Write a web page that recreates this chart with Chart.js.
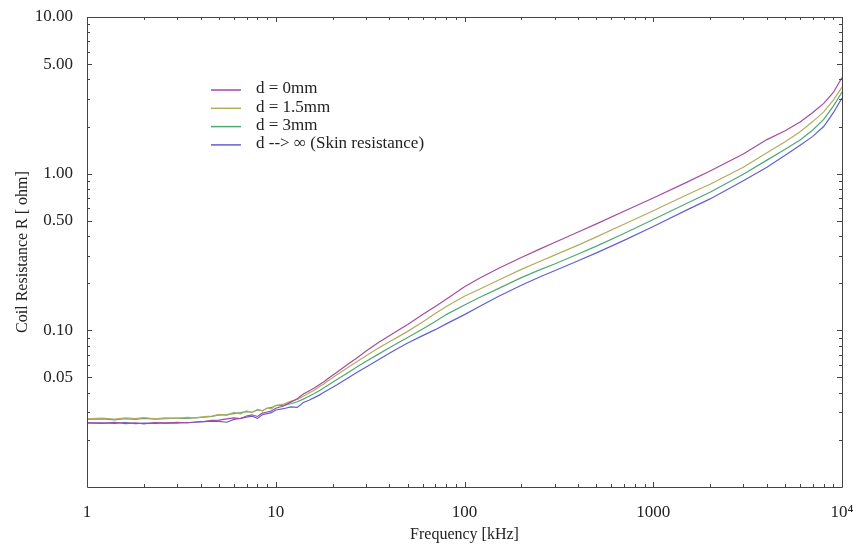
<!DOCTYPE html>
<html>
<head>
<meta charset="utf-8">
<script src="https://cdn.jsdelivr.net/npm/chart.js@4/dist/chart.umd.min.js"></script>
<style>
  html, body { margin: 0; padding: 0; background: #fff; }
  #wrap { position: relative; width: 853px; height: 545px; }
</style>
</head>
<body>
<div id="wrap"><canvas id="chart"></canvas></div>
<script>
// Frequency samples [kHz]
const freqs = [1, 1.2, 1.4, 1.6, 1.8, 2, 2.3, 2.6, 3, 3.4, 3.8, 4.2, 4.6, 5, 5.5, 6, 6.5, 7, 7.5, 8, 8.5, 9, 9.5,
    10, 11, 12, 13, 14, 15, 16, 17, 18, 19, 21, 24, 27, 30, 35, 40, 45, 50, 60, 70, 80,
    100, 120, 150, 200, 250, 300, 400, 500, 700, 1000, 1500, 2000, 3000, 4000, 5000, 6000, 7000, 8000, 9000, 10000];

// Coil resistance [ohm] per series
const d0mm = [0.0258, 0.0255, 0.0259, 0.0254, 0.0257, 0.0253, 0.0258, 0.0256, 0.0259, 0.0257, 0.0261, 0.0262, 0.0266, 0.0267, 0.0272, 0.0276, 0.0273, 0.0284, 0.0289, 0.0282, 0.0296, 0.0301, 0.0306,
    0.0318, 0.0329, 0.0348, 0.0366, 0.0392, 0.0410, 0.0428, 0.0450, 0.0470, 0.0495, 0.0538, 0.0605, 0.0668, 0.0735, 0.0835, 0.0925, 0.1010, 0.1090, 0.1260, 0.1420, 0.1580,
    0.1900, 0.2150, 0.2470, 0.2920, 0.3300, 0.3640, 0.4240, 0.4780, 0.5760, 0.7000, 0.8800, 1.0400, 1.3350, 1.6500, 1.8800, 2.1400, 2.4600, 2.8100, 3.3000, 4.1000];
const d15mm = [0.0272, 0.0275, 0.0271, 0.0276, 0.0273, 0.0277, 0.0272, 0.0276, 0.0274, 0.0278, 0.0276, 0.0281, 0.0284, 0.0291, 0.0287, 0.0299, 0.0293, 0.0306, 0.0299, 0.0313, 0.0306, 0.0319, 0.0315,
    0.0332, 0.0338, 0.0352, 0.0362, 0.0380, 0.0398, 0.0415, 0.0436, 0.0455, 0.0478, 0.0518, 0.0578, 0.0632, 0.0685, 0.0770, 0.0845, 0.0915, 0.0985, 0.1130, 0.1280, 0.1420,
    0.1650, 0.1830, 0.2080, 0.2450, 0.2750, 0.3020, 0.3500, 0.3950, 0.4750, 0.5800, 0.7300, 0.8550, 1.1000, 1.3600, 1.6000, 1.8500, 2.1500, 2.4800, 2.9500, 3.5700];
const d3mm = [0.0270, 0.0272, 0.0268, 0.0273, 0.0270, 0.0274, 0.0271, 0.0273, 0.0275, 0.0274, 0.0277, 0.0279, 0.0282, 0.0288, 0.0290, 0.0294, 0.0298, 0.0303, 0.0300, 0.0310, 0.0307, 0.0318, 0.0322,
    0.0330, 0.0332, 0.0340, 0.0350, 0.0364, 0.0380, 0.0395, 0.0412, 0.0430, 0.0448, 0.0483, 0.0535, 0.0585, 0.0632, 0.0705, 0.0775, 0.0840, 0.0900, 0.1020, 0.1140, 0.1260,
    0.1450, 0.1620, 0.1840, 0.2170, 0.2430, 0.2650, 0.3070, 0.3450, 0.4150, 0.5100, 0.6450, 0.7600, 0.9900, 1.2200, 1.4300, 1.6400, 1.9000, 2.2200, 2.7000, 3.3200];
const dInf = [0.0256, 0.0257, 0.0255, 0.0258, 0.0254, 0.0256, 0.0255, 0.0257, 0.0256, 0.0258, 0.0259, 0.0261, 0.0263, 0.0262, 0.0259, 0.0270, 0.0274, 0.0279, 0.0283, 0.0274, 0.0289, 0.0294, 0.0298,
    0.0310, 0.0316, 0.0325, 0.0322, 0.0346, 0.0358, 0.0372, 0.0386, 0.0402, 0.0418, 0.0448, 0.0495, 0.0540, 0.0582, 0.0650, 0.0715, 0.0775, 0.0830, 0.0925, 0.1010, 0.1100,
    0.1260, 0.1420, 0.1640, 0.1940, 0.2190, 0.2400, 0.2780, 0.3120, 0.3750, 0.4600, 0.5850, 0.6900, 0.9000, 1.1000, 1.3100, 1.5200, 1.7300, 2.0000, 2.4500, 3.0400];

const seriesLabels = ['d = 0mm', 'd = 1.5mm', 'd = 3mm', 'd --> \u221E (Skin resistance)'];
const seriesColors = ['rgb(165,75,160)', 'rgb(178,172,95)', 'rgb(80,168,118)', 'rgb(96,96,212)'];

// Tick labels
const xTicks = [1, 10, 100, 1000, 10000];
const yTicks = [0.05, 0.1, 0.5, 1, 5, 10];

const FONT = '"Liberation Serif", "Times New Roman", serif';

function minorTicks(lo, hi) {
    const out = [];
    for (let d = lo; d < hi; d *= 10) {
        for (let k = 2; k <= 9; k++) out.push(d * k);
    }
    return out;
}

// Frame with inward ticks on all four sides + in-plot legend
const framePlugin = {
    id: 'frame',
    afterDatasetsDraw(chart) {
        const ctx = chart.ctx;
        const a = chart.chartArea;
        const xs = chart.scales.x, ys = chart.scales.y;
        ctx.save();
        ctx.strokeStyle = '#444';
        ctx.lineWidth = 1;
        ctx.beginPath();
        ctx.rect(Math.round(a.left) + 0.5, Math.round(a.top) + 0.5, Math.round(a.right - a.left), Math.round(a.bottom - a.top));
        ctx.stroke();

        const tick = (v, len, horiz) => {
            if (horiz) {
                const px = Math.round(xs.getPixelForValue(v)) + 0.5;
                ctx.moveTo(px, a.bottom); ctx.lineTo(px, a.bottom - len);
                ctx.moveTo(px, a.top); ctx.lineTo(px, a.top + len);
            } else {
                const py = Math.round(ys.getPixelForValue(v)) + 0.5;
                ctx.moveTo(a.left, py); ctx.lineTo(a.left + len, py);
                ctx.moveTo(a.right, py); ctx.lineTo(a.right - len, py);
            }
        };
        ctx.beginPath();
        xTicks.forEach(v => tick(v, 5, true));
        minorTicks(1, 10000).forEach(v => tick(v, 3, true));
        yTicks.forEach(v => tick(v, 5, false));
        minorTicks(0.01, 10).forEach(v => { if (!yTicks.includes(v)) tick(v, 3, false); });
        ctx.stroke();

        // legend
        ctx.font = '17px ' + FONT;
        ctx.textBaseline = 'middle';
        ctx.fillStyle = '#222';
        chart.data.datasets.forEach((ds, i) => {
            const y = 89 + i * 18.3;
            ctx.strokeStyle = ds.borderColor;
            ctx.lineWidth = 1.5;
            ctx.beginPath();
            ctx.moveTo(211, y + 1); ctx.lineTo(241, y + 1);
            ctx.stroke();
            ctx.fillText(ds.label, 256, y);
        });
        ctx.restore();
    }
};

const datasets = [d0mm, d15mm, d3mm, dInf].map((vals, i) => ({
    label: seriesLabels[i],
    data: freqs.map((f, j) => ({ x: f, y: vals[j] })),
    borderColor: seriesColors[i],
    borderWidth: 1.2,
    pointRadius: 0,
    tension: 0,
    fill: false
}));

new Chart(document.getElementById('chart'), {
    type: 'line',
    data: { datasets },
    options: {
        responsive: true,
        maintainAspectRatio: false,
        animation: false,
        layout: { padding: { top: 17, right: 11, left: 0, bottom: 0 } },
        plugins: { legend: { display: false }, tooltip: { enabled: false } },
        scales: {
            x: {
                type: 'logarithmic',
                min: 1, max: 10000,
                grid: { display: false },
                border: { display: false },
                afterBuildTicks: s => { s.ticks = xTicks.map(v => ({ value: v })); },
                afterFit: s => { s.height = 58; s.paddingRight = 0; s.paddingLeft = 0; },
                ticks: {
                    color: '#222', padding: 7, maxRotation: 0, autoSkip: false,
                    font: { family: FONT, size: 17 },
                    callback: v => v === 10000 ? '10\u2074' : String(v)
                },
                title: {
                    display: true, text: 'Frequency [kHz]', color: '#222',
                    font: { family: FONT, size: 16 }, padding: { top: 0, bottom: 1 }
                }
            },
            y: {
                type: 'logarithmic',
                min: 0.01, max: 10,
                grid: { display: false },
                border: { display: false },
                afterBuildTicks: s => { s.ticks = yTicks.map(v => ({ value: v })); },
                afterFit: s => { s.width = 87; },
                ticks: {
                    color: '#222', padding: 6, autoSkip: false,
                    font: { family: FONT, size: 17 },
                    callback: v => Number(v).toFixed(2)
                },
                title: {
                    display: true, text: 'Coil Resistance R [ ohm]', color: '#222',
                    font: { family: FONT, size: 16 }, padding: { top: 13, bottom: 0 }
                }
            }
        }
    },
    plugins: [framePlugin]
});
</script>
</body>
</html>
